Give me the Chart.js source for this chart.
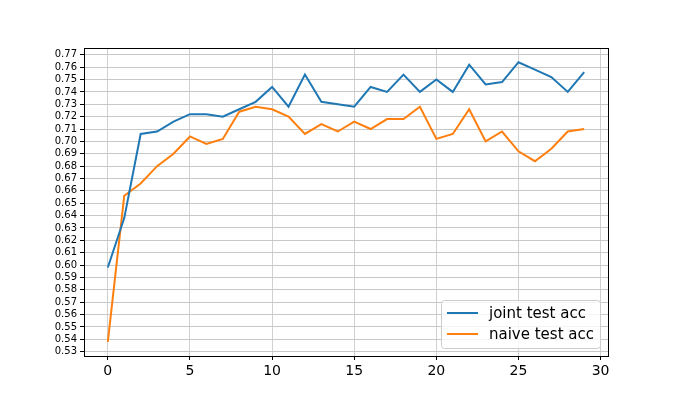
<!DOCTYPE html>
<html>
<head>
<meta charset="utf-8">
<script src="https://cdn.jsdelivr.net/npm/chart.js@4"></script>
<style>
  html, body { margin: 0; padding: 0; background: #fff; }
  #wrap { width: 675px; height: 407px; }
</style>
</head>
<body>
<div id="wrap"><canvas id="myChart" width="675" height="407"></canvas></div>
<script>
const epochs = Array.from({ length: 30 }, (_, i) => i);
const jointAcc = [0.598, 0.638, 0.706, 0.708, 0.716, 0.722, 0.722, 0.720, 0.726, 0.732,
                  0.744, 0.728, 0.754, 0.732, 0.730, 0.728, 0.744, 0.740, 0.754, 0.740,
                  0.750, 0.740, 0.762, 0.746, 0.748, 0.764, 0.758, 0.752, 0.740, 0.756];
const naiveAcc = [0.538, 0.656, 0.666, 0.680, 0.690, 0.704, 0.698, 0.702, 0.724, 0.728,
                  0.726, 0.720, 0.706, 0.714, 0.708, 0.716, 0.710, 0.718, 0.718, 0.728,
                  0.702, 0.706, 0.726, 0.700, 0.708, 0.692, 0.684, 0.694, 0.708, 0.710];
const seriesLabels = ['joint test acc', 'naive test acc'];
const colours = ['#1f77b4', '#ff7f0e'];
const xTicks = [0, 5, 10, 15, 20, 25, 30];
const yTicks = [0.53, 0.54, 0.55, 0.56, 0.57, 0.58, 0.59, 0.60, 0.61, 0.62, 0.63, 0.64, 0.65,
                0.66, 0.67, 0.68, 0.69, 0.70, 0.71, 0.72, 0.73, 0.74, 0.75, 0.76, 0.77];

const FONT = "'DejaVu Sans', sans-serif";
const ctx = document.getElementById('myChart').getContext('2d');

// frame on all four sides, like matplotlib spines
const frame = {
  id: 'frame',
  afterDatasetsDraw(chart) {
    const a = chart.chartArea, c = chart.ctx;
    c.save();
    c.strokeStyle = '#000';
    c.lineWidth = 1;
    c.strokeRect(Math.round(a.left) + 0.5, Math.round(a.top) + 0.5,
                 Math.round(a.right - a.left), Math.round(a.bottom - a.top));
    c.restore();
  }
};

// legend in lower right, drawn inside the axes
const boxLegend = {
  id: 'boxLegend',
  afterDraw(chart) {
    const a = chart.chartArea, c = chart.ctx;
    const w = 159, h = 48, r = 3;
    const x = a.right - 8 - w, y = a.bottom - 8 - h;
    c.save();
    c.fillStyle = 'rgba(255,255,255,0.8)';
    c.strokeStyle = '#cccccc';
    c.lineWidth = 1;
    c.beginPath();
    c.roundRect(x + 0.5, y + 0.5, w, h, r);
    c.fill();
    c.stroke();
    c.font = '15px ' + FONT;
    c.textBaseline = 'middle';
    chart.data.datasets.forEach((ds, i) => {
      const ly = y + 13 + i * 21;
      c.strokeStyle = ds.borderColor;
      c.lineWidth = 2;
      c.beginPath();
      c.moveTo(x + 6, ly);
      c.lineTo(x + 37, ly);
      c.stroke();
      c.fillStyle = '#000';
      c.fillText(ds.label, x + 48, ly + 1);
    });
    c.restore();
  }
};

new Chart(ctx, {
  type: 'line',
  data: {
    datasets: [jointAcc, naiveAcc].map((vals, i) => ({
      label: seriesLabels[i],
      data: vals.map((v, j) => ({ x: epochs[j], y: v })),
      borderColor: colours[i],
      backgroundColor: colours[i],
      borderWidth: 2,
      pointRadius: 0,
      tension: 0,
      fill: false
    }))
  },
  options: {
    responsive: false,
    animation: false,
    layout: { padding: { top: 48, right: 67, left: 0, bottom: 0 } },
    plugins: { legend: { display: false }, tooltip: { enabled: false } },
    scales: {
      x: {
        type: 'linear',
        min: -1.45,
        max: 30.45,
        afterBuildTicks: s => { s.ticks = xTicks.map(v => ({ value: v })); },
        afterFit: s => { s.height = 51; },
        grid: { color: '#d0d0d0', lineWidth: 1, tickLength: 4, tickColor: '#000' },
        border: { display: false },
        ticks: { color: '#000', font: { family: FONT, size: 14 }, padding: 3, maxRotation: 0 }
      },
      y: {
        type: 'linear',
        min: 0.5265,
        max: 0.7755,
        afterBuildTicks: s => { s.ticks = yTicks.map(v => ({ value: v })); },
        afterFit: s => { s.width = 84; },
        grid: { color: '#c8c8c8', lineWidth: 1, tickLength: 4, tickColor: '#000' },
        border: { display: false },
        ticks: {
          color: '#000',
          font: { family: FONT, size: 10 },
          padding: 3,
          autoSkip: false,
          callback: v => v.toFixed(2)
        }
      }
    }
  },
  plugins: [frame, boxLegend]
});
</script>
</body>
</html>
